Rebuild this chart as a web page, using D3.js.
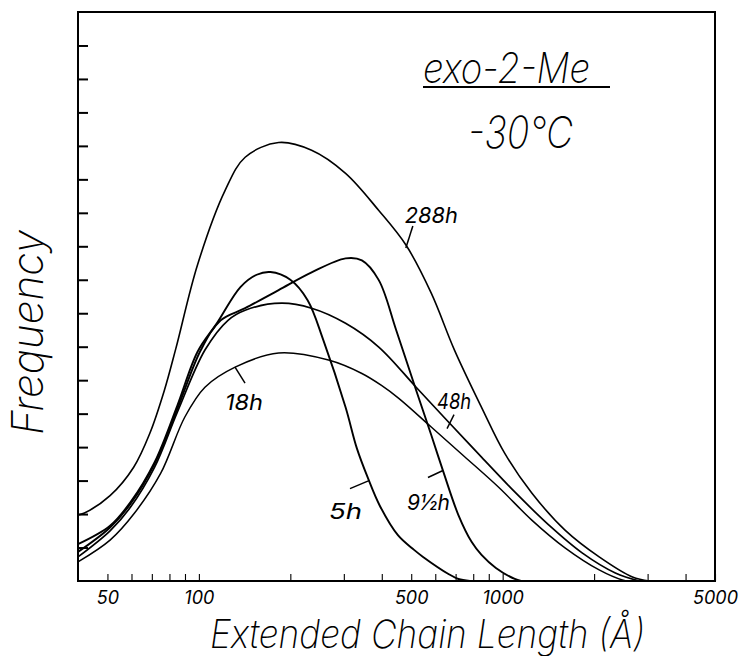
<!DOCTYPE html>
<html><head><meta charset="utf-8">
<script src="https://cdn.jsdelivr.net/npm/d3@7"></script>
<style>
body{margin:0;background:#fff}
svg{display:block}
text{font-family:"Inter","DejaVu Sans",sans-serif;font-style:italic;font-weight:200;fill:#000}
</style>
</head><body>
<svg id="chart" width="744" height="656"></svg>
<script>
// ---- data (x: extended chain length in Å, y: frequency, arbitrary units) ----
const xTickValues = [50,60,70,80,90,100,200,300,400,500,600,700,800,900,1000,2000,3000,4000];
const xTickLabels = [50,100,500,1000,5000];
const yTickValues = [1,2,3,4,5,6,7,8,9,10,11,12,13,14,15,16];

const curve5h = [[40,1.10],[51,1.65],[59.5,2.35],[71.5,3.55],[85,5.25],[99,6.85],[115,7.72],[137,8.78],[155,9.15],[172,9.23],[200,9.0],[228,8.39],[257,7.19],[304,5.19],[331,3.97],[360,3.08],[394,2.25],[452,1.37],[511,0.93],[547,0.72],[663,0.21],[715,0.06],[780,0]];
const curve9h = [[40,0.87],[51,1.60],[59.5,2.30],[71.5,3.50],[85,5.15],[101.5,6.90],[118,7.79],[142,8.15],[183,8.69],[235,9.22],[304,9.64],[344,9.58],[391,8.99],[446,7.5],[519,5.7],[582,4.36],[638,3.26],[715,1.97],[790,1.17],[852,0.78],[950,0.39],[1096,0.06],[1150,0]];
const curve18h = [[40,0.57],[51,1.22],[61.4,2.03],[74.9,3.22],[89.9,4.90],[104.7,5.79],[131.6,6.39],[183,6.81],[267,6.60],[344,6.20],[398,5.85],[456,5.45],[582,4.60],[748,3.72],[970,2.80],[1247,1.82],[1604,0.99],[2078,0.33],[2478,0.03],[2600,0]];
const curve48h = [[40,0.72],[51,1.50],[59.5,2.20],[71.5,3.40],[85,5.05],[104.7,6.90],[124.7,7.79],[142,8.09],[187,8.30],[235,8.15],[304,7.70],[391,6.99],[519,5.79],[668,4.72],[852,3.70],[1096,2.66],[1420,1.67],[1826,0.84],[2349,0.24],[2820,0]];
const curve288h = [[40,1.97],[42,2.03],[51,2.55],[61,3.40],[69,4.42],[77,5.70],[84,6.95],[99,9.45],[122,11.67],[142,12.66],[183,13.10],[235,12.87],[304,12.18],[391,11.07],[481,10.03],[582,8.60],[694,6.90],[852,5.19],[1015,3.82],[1247,2.63],[1604,1.52],[2078,0.72],[2674,0.12],[3040,0]];

const seriesNames = ["5h","9½h","18h","48h","288h"];
const seriesData  = [curve5h, curve9h, curve18h, curve48h, curve288h];
const seriesWidth = [1.9, 1.9, 1.5, 1.7, 1.6];

const titleText = "exo-2-Me";
const subtitleText = "-30°C";
const xTitle = "Extended Chain Length (Å)";
const yTitle = "Frequency";

// ---- layout ----
const svg = d3.select("#chart");
const L = 78, R = 715, T = 12, B = 581;
const x = d3.scaleLog().domain([40, 5000]).range([L, R]);
const y = d3.scaleLinear().domain([0, 17]).range([B, T]);

// axes (inward ticks)
const xAxis = d3.axisBottom(x).tickValues(xTickValues.concat([5000]))
  .tickSize(-7).tickSizeOuter(0).tickPadding(10)
  .tickFormat(d => xTickLabels.includes(d) ? String(d) : "");
const gx = svg.append("g").attr("transform", `translate(0,${B})`).call(xAxis);
gx.select(".domain").remove();
gx.selectAll(".tick line").attr("stroke","#000").attr("stroke-width",1.1);
gx.selectAll(".tick text").filter(function(){ return this.textContent === ""; }).remove();
gx.selectAll(".tick text").style("font-size","18px").style("font-weight","400").attr("fill","#000");

const yAxis = d3.axisLeft(y).tickValues(yTickValues).tickSize(-10).tickSizeOuter(0).tickFormat("");
const gy = svg.append("g").attr("transform", `translate(${L},0)`).call(yAxis);
gy.select(".domain").remove();
gy.selectAll(".tick text").remove();
gy.selectAll(".tick line").attr("stroke","#000").attr("stroke-width",2);

// frame
svg.append("rect").attr("x",L).attr("y",T).attr("width",R-L).attr("height",B-T)
  .attr("fill","none").attr("stroke","#000").attr("stroke-width",2);

// curves
const line = d3.line().x(d => x(d[0])).y(d => y(d[1])).curve(d3.curveCatmullRom.alpha(0.5));
svg.append("g").selectAll("path").data(seriesData).join("path")
  .attr("d", d => line(d)).attr("fill","none").attr("stroke","#000")
  .attr("stroke-width",(d,i)=>seriesWidth[i]).attr("stroke-linejoin","round");

// curve labels with pointer ticks: anchor on curve (data coords), offsets in px
const ann = [
  {name:"288h", at:[480,9.95], p:[7,-22], t:[-1,-25], len:53},
  {name:"48h",  at:[656,4.55], p:[7,-14], t:[-10,-20], len:34},
  {name:"9½h",  at:[636,3.3], p:[-15,7], t:[-36,39], len:43},
  {name:"5h",   at:[363,3.0], p:[-19,8], t:[-40,38], len:33},
  {name:"18h",  at:[131.5,6.39], p:[10,16], t:[-10,43], len:38}
];
ann.forEach(a => {
  const ax = x(a.at[0]), ay = y(a.at[1]);
  svg.append("line").attr("x1",ax).attr("y1",ay).attr("x2",ax+a.p[0]).attr("y2",ay+a.p[1])
    .attr("stroke","#000").attr("stroke-width",1.5);
  svg.append("text").attr("x",ax+a.t[0]).attr("y",ay+a.t[1]).text(a.name)
    .style("font-size","22px").style("font-weight","400")
    .attr("textLength",a.len).attr("lengthAdjust","spacingAndGlyphs");
});

// title block
svg.append("text").attr("x",423).attr("y",83).text(titleText)
  .style("font-size","42px").attr("textLength",167).attr("lengthAdjust","spacingAndGlyphs");
svg.append("line").attr("x1",423).attr("x2",610).attr("y1",87).attr("y2",87)
  .attr("stroke","#000").attr("stroke-width",2);
svg.append("text").attr("x",468).attr("y",148).text(subtitleText)
  .style("font-size","44px").attr("textLength",105).attr("lengthAdjust","spacingAndGlyphs");

// axis titles
svg.append("text").attr("x",210).attr("y",648).text(xTitle)
  .style("font-size","39px").attr("textLength",435).attr("lengthAdjust","spacingAndGlyphs");
svg.append("text").attr("transform","translate(43,435) rotate(-90)").text(yTitle)
  .style("font-size","44px").attr("textLength",205).attr("lengthAdjust","spacingAndGlyphs");
</script>
</body></html>
